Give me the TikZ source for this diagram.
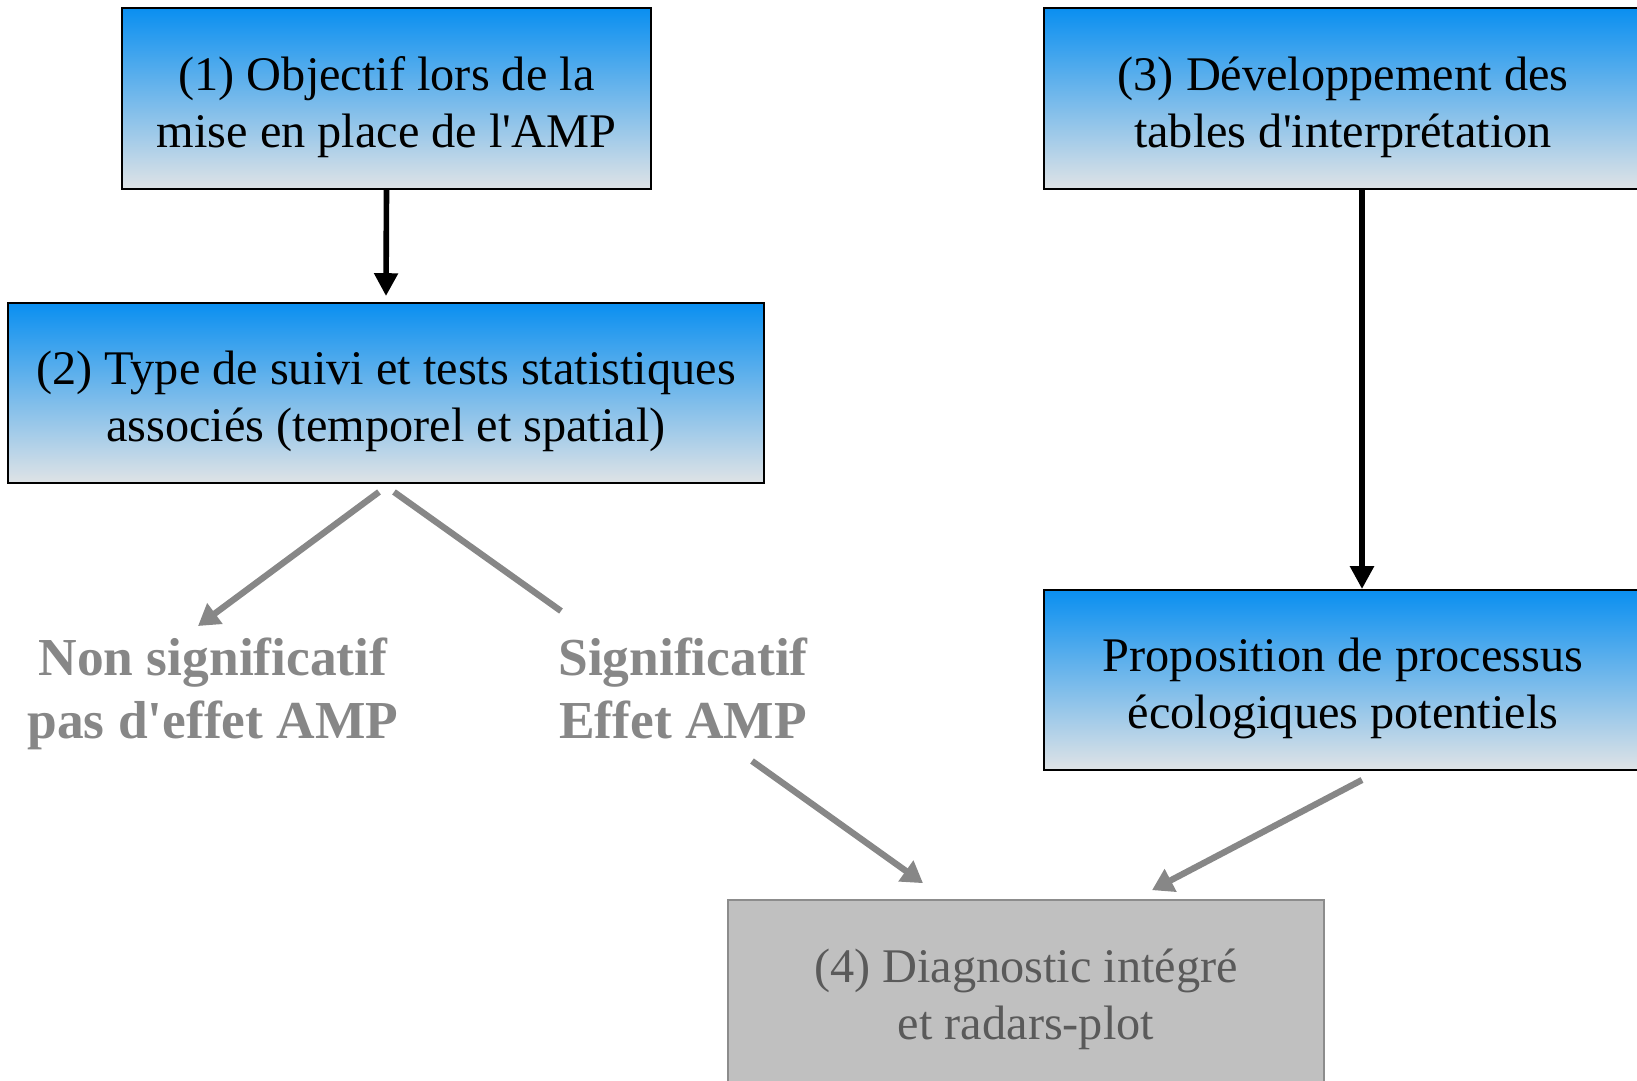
\documentclass[tikz,border=0pt]{standalone}
\usepackage{fontspec}
\setmainfont{Liberation Serif}
\usetikzlibrary{arrows.meta}

\definecolor{boxtop}{HTML}{0A8FF0}
\definecolor{boxbot}{HTML}{DFE3E6}
\definecolor{diagfill}{HTML}{C0C0C0}
\definecolor{diagline}{HTML}{8C8C8C}
\definecolor{diagtext}{HTML}{5A5A5A}
\definecolor{testgray}{HTML}{878787}

% two lines, same height and depth in every box
\newcommand{\twolines}[3][30pt]{\rule{0pt}{#1}#2\\#3\rule[-7pt]{0pt}{7pt}}

\tikzset{
	stagebox/.style={draw=black, line width=1.1pt, top color=boxtop, bottom color=boxbot, align=center, font=\fontsize{27.5}{32.5}\selectfont, inner sep=0pt},
	diagbox/.style={draw=diagline, line width=1pt, fill=diagfill, text=diagtext, align=center, font=\fontsize{27.5}{32.5}\selectfont, inner sep=0pt},
	testlabel/.style={text=testgray, align=center, font=\fontsize{30.4}{35.6}\selectfont\bfseries},
	flow/.style={line width=3.2pt, -{Triangle[length=13pt,width=13pt]}},
	grayflow/.style={draw=testgray, line width=3.6pt, -{Triangle[length=12pt,width=14pt]}},
}

\begin{document}
\begin{tikzpicture}[x=0.02cm, y=-0.02cm]
			\useasboundingbox (0,0) rectangle (1637,1080);
			\clip (0,0) rectangle (1637,1080);
			{\node[stagebox, minimum width=10.58cm, minimum height=3.62cm] (objectif) at (386.5,98.5) {\twolines{(1) Objectif lors de la}{mise en place de l\textquotesingle AMP}};}
			{\node[stagebox, minimum width=15.12cm, minimum height=3.6cm] (suivi) at (386,393) {\twolines{(2) Type de suivi et tests statistiques}{associés (temporel et spatial)}};}
			{\node[stagebox, minimum width=11.96cm, minimum height=3.62cm] (tables) at (1343,98.5) {\twolines{(3) Développement des}{tables d\textquotesingle interprétation}};}
			{\node[stagebox, minimum width=11.96cm, minimum height=3.6cm] (processus) at (1343,680) {\twolines{Proposition de processus}{écologiques potentiels}};}
			{\node[diagbox, minimum width=11.92cm, minimum height=3.8cm] (diagnostic) at (1026,995) {\twolines[25pt]{(4) Diagnostic intégré}{et radars-plot}};}
			{\node[testlabel] (nonsig) at (213,693) {\rule{0pt}{24pt}Non significatif\\pas d\textquotesingle effet AMP\rule[-8pt]{0pt}{8pt}};}
			{\node[testlabel] (sig) at (683,693) {\rule{0pt}{24pt}Significatif\\Effet AMP\rule[-8pt]{0pt}{8pt}};}
			{\draw[flow] (objectif.south) -- ([shift={(0,-6)}]suivi.north);}
			{\draw[flow] ([shift={(19,0)}]tables.south) -- ([shift={(19,0)}]processus.north);}
			{\draw[grayflow] ([shift={(-7,8)}]suivi.south) -- ([shift={(-15,-67)}]nonsig.center);}
			{\draw[testgray, line width=3.6pt] ([shift={(8,8)}]suivi.south) -- ([shift={(-122,-82)}]sig.center);}
			{\draw[grayflow] ([shift={(69,68)}]sig.center) -- ([shift={(-103,-16)}]diagnostic.north);}
			{\draw[grayflow] ([shift={(19,9)}]processus.south) -- ([shift={(126,-9)}]diagnostic.north);}
		\end{tikzpicture}
\end{document}
